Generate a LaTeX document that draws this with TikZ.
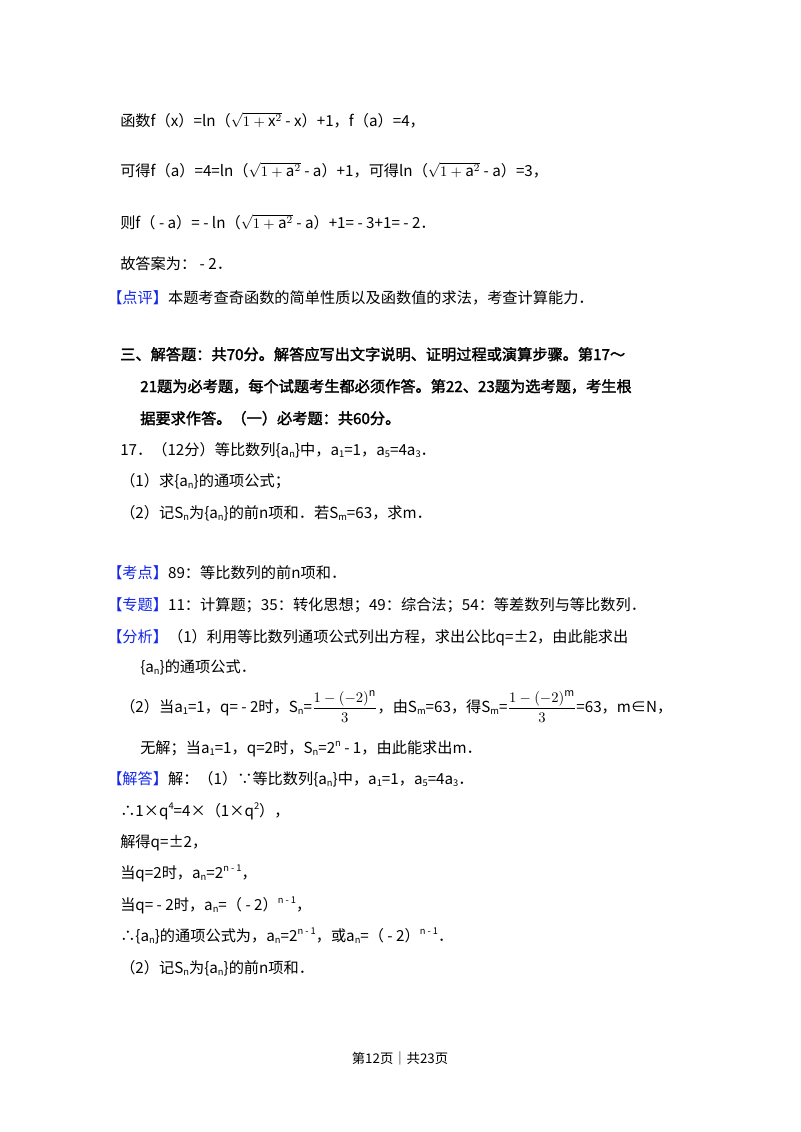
\documentclass[tikz,border=0pt]{standalone}
\usepackage{fontspec}
\setmainfont{Noto Sans CJK SC}
\newfontfamily\bcjk[FakeBold=2]{Noto Sans CJK SC}
\definecolor{kblue}{RGB}{20,40,230}
\newcommand{\sbs}[1]{\raisebox{-0.35ex}{\scriptsize #1}}
\newcommand{\sps}[1]{\raisebox{0.8ex}{\scriptsize #1}}
\newcommand{\an}{\{a\sbs{n}\}}
\newcommand{\tg}[1]{\textcolor{kblue}{【#1】}}
\newcommand{\fr}[1]{$\displaystyle\frac{1-(-2)^{\mathrm{#1}}}{3}$}
\begin{document}
\begin{tikzpicture}[x=0.75pt,y=-0.75pt,
  tl/.style={anchor=base west,inner sep=0pt,font=\fontsize{11.4pt}{13pt}\selectfont}]
\useasboundingbox[fill=white] (0,0) rectangle (800,1132);
\node[tl] (l1) at (120,126) {函数f（x）=ln（$\sqrt{1+\mathrm{x}^{2}}$ - x）+1，f（a）=4，};
\node[tl] (l2) at (120,176) {可得f（a）=4=ln（$\sqrt{1+\mathrm{a}^{2}}$ - a）+1，可得ln（$\sqrt{1+\mathrm{a}^{2}}$ - a）=3，};
\node[tl] (l3) at (120,228) {则f（ - a）= - ln（$\sqrt{1+\mathrm{a}^{2}}$ - a）+1= - 3+1= - 2．};
\node[tl] (l4) at (120,269) {故答案为： - 2．};
\node[tl] (l5) at (107,303) {\tg{点评}本题考查奇函数的简单性质以及函数值的求法，考查计算能力．};
\node[tl] (h1) at (120,360) {\bcjk 三、解答题：共70分。解答应写出文字说明、证明过程或演算步骤。第17～};
\node[tl] (h2) at (140,392) {\bcjk 21题为必考题，每个试题考生都必须作答。第22、23题为选考题，考生根};
\node[tl] (h3) at (140,424) {\bcjk 据要求作答。（一）必考题：共60分。};
\node[tl] (p1) at (120,455) {17．（12分）等比数列\an 中，a\sbs{1}=1，a\sbs{5}=4a\sbs{3}．};
\node[tl] (p2) at (120,486) {（1）求\an 的通项公式；};
\node[tl] (p3) at (120,518) {（2）记S\sbs{n}为\an 的前n项和．若S\sbs{m}=63，求m．};
\node[tl] (k1) at (107,578) {\tg{考点}89：等比数列的前n项和．};
\node[tl] (k2) at (107,610) {\tg{专题}11：计算题；35：转化思想；49：综合法；54：等差数列与等比数列．};
\node[tl] (k3) at (107,642) {\tg{分析}（1）利用等比数列通项公式列出方程，求出公比q=±2，由此能求出};
\node[tl] (k4) at (140,672) {\an 的通项公式．};
\node[tl] (k5) at (120,712) {（2）当a\sbs{1}=1，q= - 2时，S\sbs{n}=\fr{n}，由S\sbs{m}=63，得S\sbs{m}=\fr{m}=63，m∈N，};
\node[tl] (k6) at (140,753) {无解；当a\sbs{1}=1，q=2时，S\sbs{n}=2\sps{n} - 1，由此能求出m．};
\node[tl] (j1) at (107,784) {\tg{解答}解：（1）∵等比数列\an 中，a\sbs{1}=1，a\sbs{5}=4a\sbs{3}．};
\node[tl] (j2) at (120,816) {∴1×q\sps{4}=4×（1×q\sps{2}），};
\node[tl] (j3) at (120,847) {解得q=±2，};
\node[tl] (j4) at (120,878) {当q=2时，a\sbs{n}=2\sps{n - 1}，};
\node[tl] (j5) at (120,910) {当q= - 2时，a\sbs{n}=（ - 2）\sps{n - 1}，};
\node[tl] (j6) at (120,941) {∴\an 的通项公式为，a\sbs{n}=2\sps{n - 1}，或a\sbs{n}=（ - 2）\sps{n - 1}．};
\node[tl] (j7) at (120,973) {（2）记S\sbs{n}为\an 的前n项和．};
\node[anchor=base,inner sep=0pt,font=\fontsize{10pt}{12pt}\selectfont] (ft) at (400,1063) {第12页｜共23页};
\end{tikzpicture}
\end{document}
